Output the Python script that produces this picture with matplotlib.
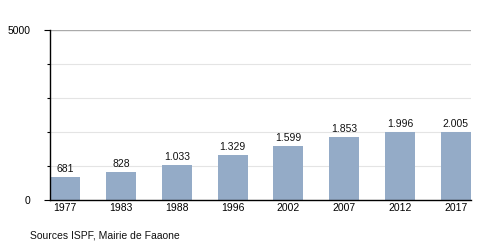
import matplotlib
matplotlib.use("Agg")
import matplotlib.pyplot as plt

plt.rcParams['font.family'] = ['Liberation Sans', 'DejaVu Sans']

# data
years = ['1977', '1983', '1988', '1996', '2002', '2007', '2012', '2017']
population = [681, 828, 1033, 1329, 1599, 1853, 1996, 2005]
labels = ['681', '828', '1.033', '1.329', '1.599', '1.853', '1.996', '2.005']

fig = plt.figure(figsize=(5, 2.5), dpi=100)
ax = fig.add_axes([0.1, 0.2, 0.842, 0.68])

x = range(len(years))
ax.bar(x, population, width=0.54, color='#94abc7', zorder=2)

# gridlines
for g in [1000, 2000, 3000, 4000]:
    ax.axhline(g, color='#e4e4e4', lw=0.8, zorder=1)
ax.axhline(5000, color='#aaaaaa', lw=1.0, zorder=1)

for i, (v, t) in enumerate(zip(population, labels)):
    ax.text(i, v + 80, t, ha='center', va='bottom', fontsize=7.5, color='#111111')

ax.set_xlim(-0.27, len(years) - 0.73)
ax.set_ylim(0, 5000)
ax.set_xticks(list(x))
ax.set_xticklabels(years, fontsize=7.5)
ax.set_yticks([0, 5000])
ax.set_yticklabels(['0', '5000'], fontsize=7.5)
ax.set_yticks([1000, 2000, 3000, 4000], minor=True)
ax.tick_params(axis='x', length=0, pad=2)
ax.tick_params(axis='y', which='major', length=4, width=0.8, pad=10)
ax.tick_params(axis='y', which='minor', length=2.5, width=0.8)

for s in ['top', 'right']:
    ax.spines[s].set_visible(False)
ax.spines['left'].set_linewidth(1.0)
ax.spines['bottom'].set_linewidth(1.0)

fig.text(0.06, 0.048, 'Sources ISPF, Mairie de Faaone', fontsize=7.5, color='#111111')

fig.savefig('out.png', dpi=100)
